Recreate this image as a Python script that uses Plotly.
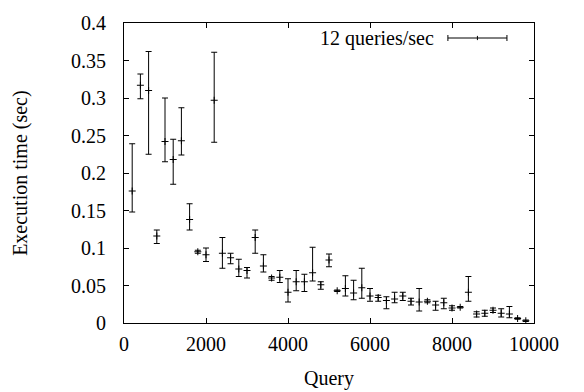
import plotly.graph_objects as go

queries = [200, 400, 600, 800, 1000, 1200, 1400, 1600, 1800, 2000,
           2200, 2400, 2600, 2800, 3000, 3200, 3400, 3600, 3800, 4000,
           4200, 4400, 4600, 4800, 5000, 5200, 5400, 5600, 5800, 6000,
           6200, 6400, 6600, 6800, 7000, 7200, 7400, 7600, 7800, 8000,
           8200, 8400, 8600, 8800, 9000, 9200, 9400, 9600, 9800]
mean_time = [0.176, 0.317, 0.310, 0.116, 0.242, 0.218, 0.243, 0.138, 0.095, 0.091,
             0.297, 0.093, 0.087, 0.072, 0.070, 0.114, 0.076, 0.060, 0.061, 0.041,
             0.055, 0.055, 0.067, 0.051, 0.084, 0.043, 0.046, 0.040, 0.047, 0.036,
             0.034, 0.030, 0.032, 0.036, 0.029, 0.028, 0.029, 0.024, 0.027, 0.020,
             0.021, 0.041, 0.012, 0.013, 0.017, 0.013, 0.012, 0.006, 0.003]
low_time = [0.148, 0.299, 0.225, 0.106, 0.215, 0.185, 0.224, 0.124, 0.093, 0.082,
            0.241, 0.073, 0.079, 0.062, 0.060, 0.093, 0.068, 0.057, 0.054, 0.028,
            0.043, 0.042, 0.056, 0.045, 0.075, 0.042, 0.036, 0.031, 0.033, 0.029,
            0.029, 0.019, 0.027, 0.030, 0.024, 0.016, 0.027, 0.017, 0.019, 0.017,
            0.020, 0.029, 0.008, 0.009, 0.014, 0.008, 0.007, 0.005, 0.002]
high_time = [0.239, 0.332, 0.362, 0.124, 0.300, 0.245, 0.287, 0.159, 0.097, 0.100,
             0.361, 0.114, 0.093, 0.085, 0.074, 0.124, 0.091, 0.062, 0.070, 0.059,
             0.070, 0.065, 0.101, 0.055, 0.092, 0.044, 0.063, 0.057, 0.073, 0.046,
             0.037, 0.035, 0.041, 0.041, 0.033, 0.046, 0.031, 0.029, 0.033, 0.023,
             0.022, 0.062, 0.015, 0.017, 0.020, 0.019, 0.022, 0.007, 0.004]
series_name = "12 queries/sec"
x_ticks = [0, 2000, 4000, 6000, 8000, 10000]
x_tick_text = ["0", "2000", "4000", "6000", "8000", "10000"]
y_ticks = [0, 0.05, 0.1, 0.15, 0.2, 0.25, 0.3, 0.35, 0.4]
y_tick_text = ["0", "0.05", "0.1", "0.15", "0.2", "0.25", "0.3", "0.35", "0.4"]

err_plus = [h - m for h, m in zip(high_time, mean_time)]
err_minus = [m - l for m, l in zip(mean_time, low_time)]

FONT = "Liberation Serif"
TF = dict(family=FONT, size=20, color="black")
fig = go.Figure()
fig.add_trace(go.Scatter(
    x=queries, y=mean_time, mode="markers", name=series_name,
    marker=dict(symbol="cross-thin", size=5, line=dict(color="black", width=1), color="black"),
    error_y=dict(type="data", symmetric=False, array=err_plus, arrayminus=err_minus,
                 color="black", thickness=1, width=3),
    showlegend=False,
))

fig.update_layout(
    width=584, height=392,
    margin=dict(l=124, r=50, t=15, b=69),
    paper_bgcolor="white", plot_bgcolor="white",
    font=TF,
    xaxis=dict(range=[0, 10000], tickvals=x_ticks, ticktext=x_tick_text, ticks="inside",
               ticklen=5, tickcolor="black", showline=True, linecolor="black", linewidth=1,
               mirror="ticks", showgrid=False, zeroline=False, tickfont=TF,
               ticklabelstandoff=3),
    yaxis=dict(range=[0, 0.4], tickvals=y_ticks, ticktext=y_tick_text, ticks="inside",
               ticklen=5, tickcolor="black", showline=True, linecolor="black",
               linewidth=1, mirror="ticks", showgrid=False, zeroline=False, tickfont=TF,
               ticklabelstandoff=13),
    annotations=[
        dict(text="Query", xref="paper", yref="paper", x=0.5, y=-0.185, xanchor="center",
             yanchor="middle", showarrow=False, font=TF),
        dict(text="Execution time (sec)", xref="paper", yref="paper", x=-0.254, y=0.5,
             xanchor="center", yanchor="middle", textangle=-90, showarrow=False,
             font=TF),
        dict(text=series_name, xref="paper", yref="paper", x=0.762, y=0.95,
             xanchor="right", yanchor="middle", showarrow=False, font=TF),
    ],
    shapes=[
        dict(type="line", xref="paper", yref="paper", x0=0.79, x1=0.934, y0=0.95, y1=0.95,
             line=dict(color="black", width=1)),
        dict(type="line", xref="paper", yref="paper", x0=0.79, x1=0.79, y0=0.94, y1=0.96,
             line=dict(color="black", width=1)),
        dict(type="line", xref="paper", yref="paper", x0=0.934, x1=0.934, y0=0.94, y1=0.96,
             line=dict(color="black", width=1)),
        dict(type="line", xref="paper", yref="paper", x0=0.862, x1=0.862, y0=0.943, y1=0.957,
             line=dict(color="black", width=1)),
    ],
)

fig.write_html("out.html")
